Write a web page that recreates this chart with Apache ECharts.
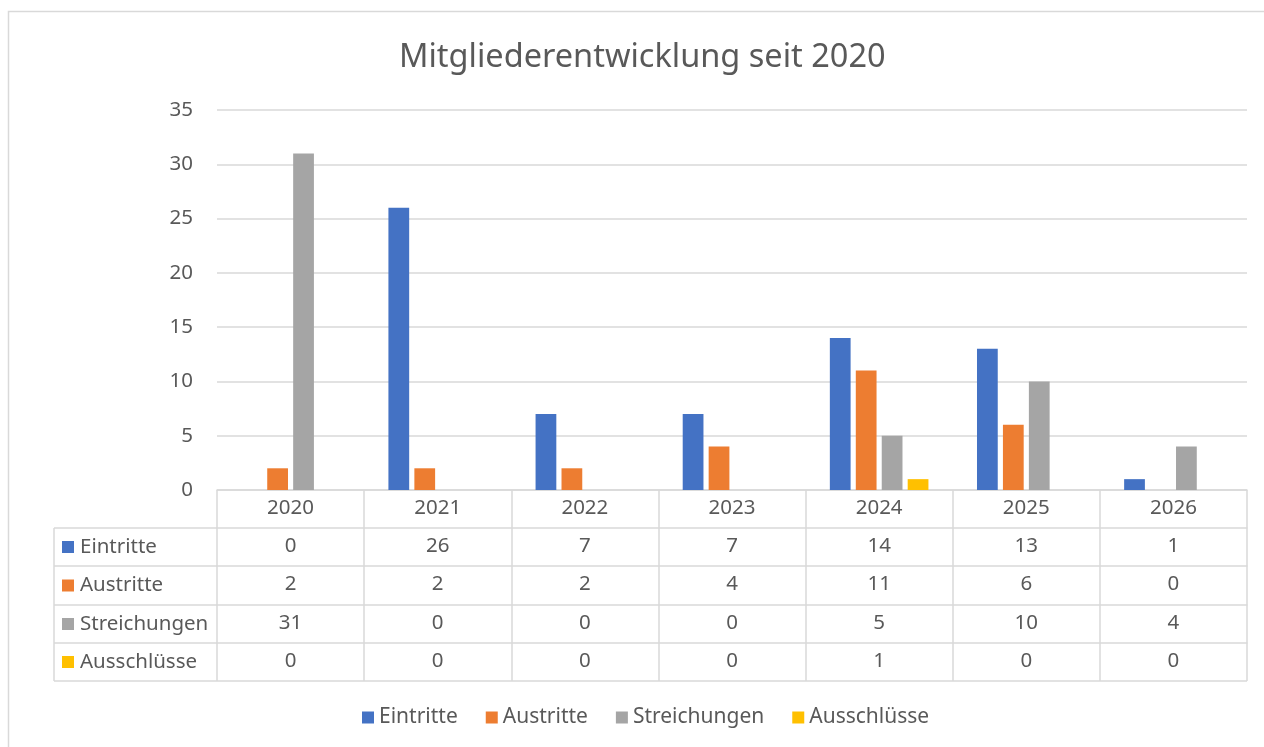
<!DOCTYPE html>
<html>
<head>
<meta charset="utf-8">
<script src="https://cdn.jsdelivr.net/npm/echarts@6/dist/echarts.min.js"></script>
<style>
html,body{margin:0;padding:0;background:#fff;}
#chart{width:1264px;height:747px;}
</style>
</head>
<body>
<div id="chart"></div>
<script>
// ---- data ----
const years = ['2020', '2021', '2022', '2023', '2024', '2025', '2026'];
const seriesNames = ['Eintritte', 'Austritte', 'Streichungen', 'Ausschlüsse'];
const eintritte = [0, 26, 7, 7, 14, 13, 1];
const austritte = [2, 2, 2, 4, 11, 6, 0];
const streichungen = [31, 0, 0, 0, 5, 10, 4];
const ausschluesse = [0, 0, 0, 0, 1, 0, 0];
const yTicks = [0, 5, 10, 15, 20, 25, 30, 35];

const seriesData = [eintritte, austritte, streichungen, ausschluesse];
const colors = ['#4472C4', '#ED7D31', '#A5A5A5', '#FFC000'];
const txt = '#595959';
const lineC = '#d9d9d9';
const FONT = '"Noto Sans", sans-serif';

// layout
const gridLeft = 217, gridRight = 1264 - 1247, gridTop = 110, gridBottom = 747 - 490;
const axisY = 490;
const rowOffsets = [38, 76, 115, 153];
const tableBottom = 681;
const tableLeft = 54;
const FS = 20.5;

const chart = echarts.init(document.getElementById('chart'));

const xAxes = [{
  type: 'category',
  data: years,
  gridIndex: 0,
  position: 'bottom',
  axisLine: { show: true, lineStyle: { color: lineC, width: 1.5 } },
  axisTick: { show: true, alignWithLabel: false, length: tableBottom - axisY, lineStyle: { color: lineC, width: 1.5 } },
  axisLabel: { interval: 0, margin: 8, color: txt, fontSize: FS, fontFamily: FONT }
}];
seriesData.forEach((arr, k) => {
  xAxes.push({
    type: 'category',
    data: years,
    gridIndex: 0,
    position: 'bottom',
    offset: rowOffsets[k],
    axisLine: { show: true, lineStyle: { color: lineC, width: 1.5 } },
    axisTick: { show: false },
    axisLabel: { interval: 0, margin: 8, color: txt, fontSize: FS, fontFamily: FONT,
      formatter: (v, i) => String(arr[i]) }
  });
});

const graphics = [
  { type: 'rect', z: -10, shape: { x: 8.5, y: 11.5, width: 1400, height: 900 },
    style: { fill: 'none', stroke: lineC, lineWidth: 1.5 } },
  { type: 'line', shape: { x1: tableLeft, y1: tableBottom, x2: 1264 - gridRight, y2: tableBottom },
    style: { stroke: lineC, lineWidth: 1.5 } },
  { type: 'line', shape: { x1: tableLeft, y1: axisY + rowOffsets[0], x2: tableLeft, y2: tableBottom },
    style: { stroke: lineC, lineWidth: 1.5 } }
];
rowOffsets.forEach((off, k) => {
  const top = axisY + off;
  const bottom = k < rowOffsets.length - 1 ? axisY + rowOffsets[k + 1] : tableBottom;
  const cy = (top + bottom) / 2;
  graphics.push({ type: 'line', shape: { x1: tableLeft, y1: top, x2: gridLeft, y2: top },
    style: { stroke: lineC, lineWidth: 1.5 } });
  graphics.push({ type: 'rect', shape: { x: 62, y: cy - 6, width: 12, height: 12 },
    style: { fill: colors[k] } });
  graphics.push({ type: 'text', x: 80, y: cy,
    style: { text: seriesNames[k], fill: txt, fontSize: FS, fontFamily: FONT, verticalAlign: 'middle', align: 'left' } });
});

chart.setOption({
  animation: false,
  backgroundColor: '#fff',
  color: colors,
  title: {
    text: 'Mitgliederentwicklung seit 2020',
    left: 399,
    top: 41,
    padding: 0,
    textStyle: { color: txt, fontSize: 32.5, fontWeight: 'normal', fontFamily: FONT }
  },
  legend: {
    data: seriesNames,
    left: 362,
    top: 707,
    padding: 0,
    icon: 'rect',
    itemWidth: 12,
    itemHeight: 12,
    itemGap: 28,
    selectedMode: false,
    textStyle: { color: txt, fontSize: 21, fontFamily: FONT }
  },
  grid: { left: gridLeft, right: gridRight, top: gridTop, bottom: gridBottom, containLabel: false },
  xAxis: xAxes,
  yAxis: {
    type: 'value',
    min: yTicks[0],
    max: yTicks[yTicks.length - 1],
    interval: 5,
    axisLine: { show: false },
    axisTick: { show: false },
    axisLabel: { margin: 24, color: txt, fontSize: 20.5, fontFamily: FONT },
    splitLine: { lineStyle: { color: lineC, width: 1.5 } }
  },
  series: seriesData.map((arr, k) => ({
    name: seriesNames[k],
    type: 'bar',
    xAxisIndex: 0,
    data: arr,
    barGap: '25%',
    barCategoryGap: '33%',
    itemStyle: { color: colors[k] }
  })),
  graphic: graphics
});
</script>
</body>
</html>
